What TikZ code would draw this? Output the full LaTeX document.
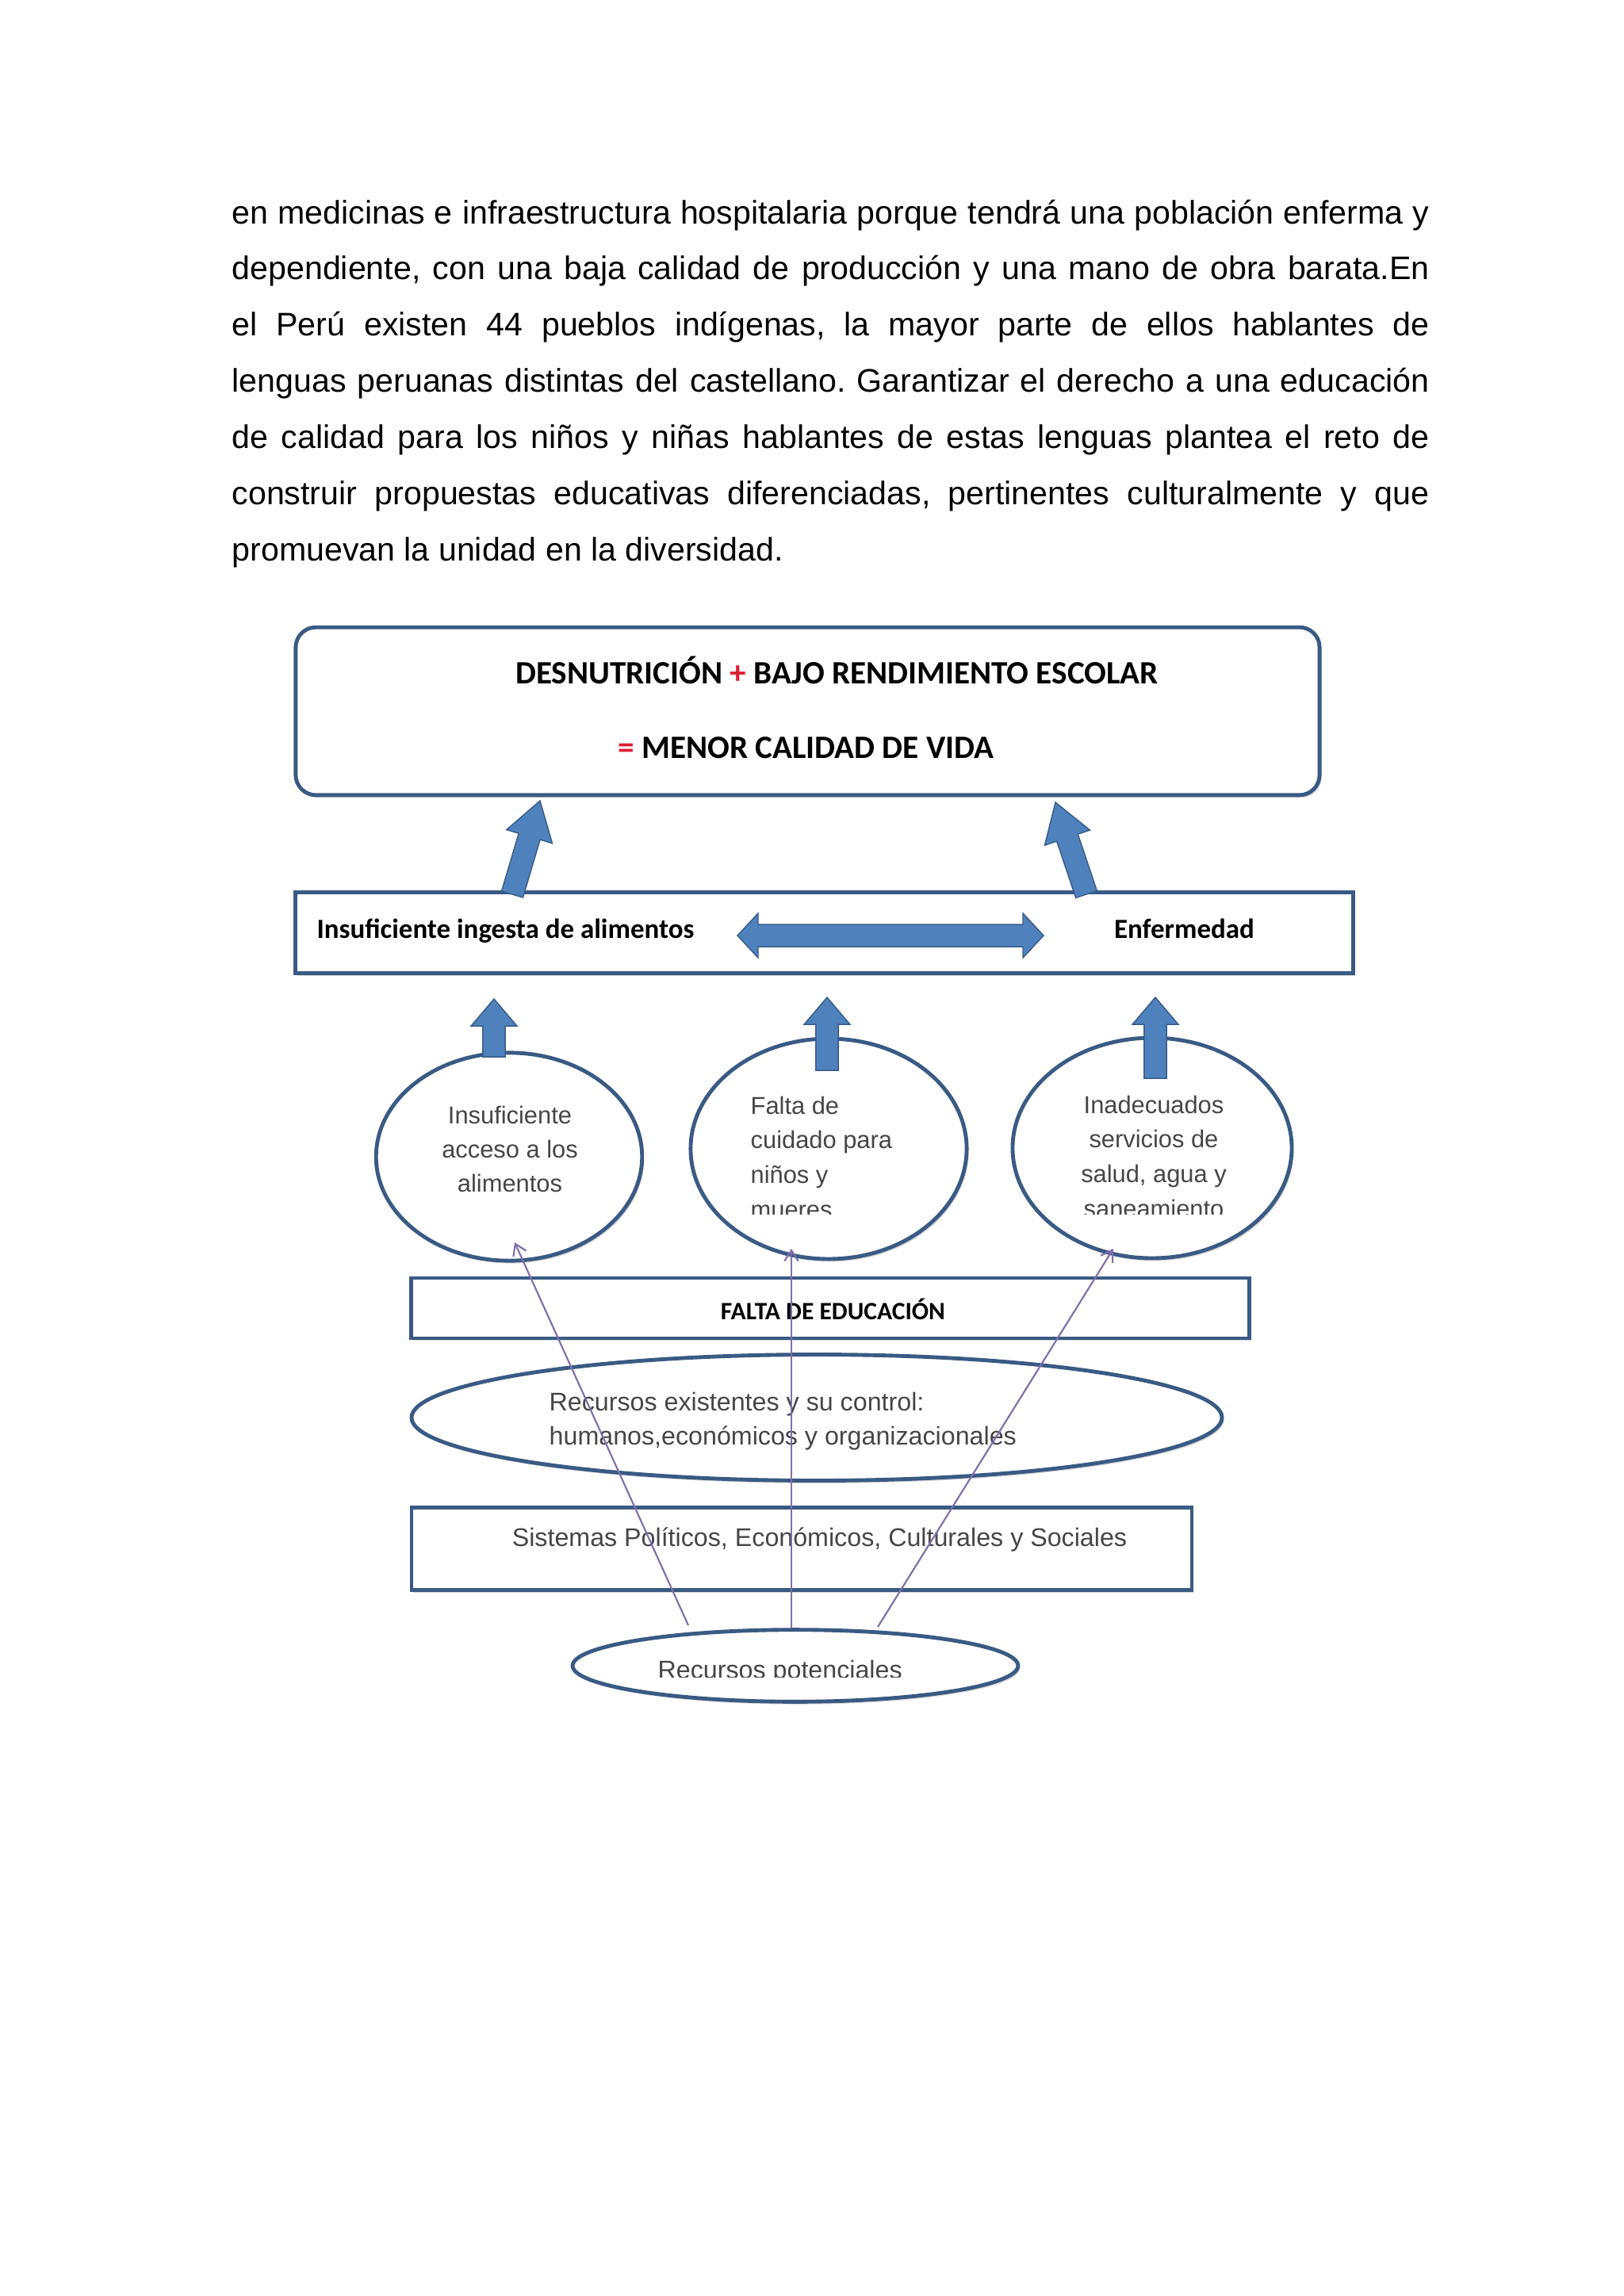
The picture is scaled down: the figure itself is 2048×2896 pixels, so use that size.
\documentclass[tikz,border=0pt]{standalone}
\usepackage{fontspec}
\setmainfont{Liberation Sans}
\newfontfamily\calib{Carlito}
\usetikzlibrary{calc,arrows.meta,shadows,shapes.geometric}
\definecolor{bordc}{RGB}{58,90,132}
\definecolor{arrfill}{RGB}{79,129,189}
\definecolor{arrline}{RGB}{56,93,138}
\definecolor{linkc}{RGB}{128,110,172}
\definecolor{graytxt}{RGB}{70,70,70}
\definecolor{plusred}{RGB}{222,30,52}
\newcommand\blockarrow[5]{%
  \coordinate (#1-h) at ($(#2)!#5!(#1)$);
  \filldraw[blockarr] ($(#1)!#3!90:(#2)$) -- ($(#1-h)!#3!-90:(#1)$) -- ($(#1-h)!#4!-90:(#1)$) -- (#2) -- ($(#1-h)!#4!90:(#1)$) -- ($(#1-h)!#3!90:(#1)$) -- ($(#1)!#3!-90:(#2)$) -- cycle;
}
\begin{document}
\begin{tikzpicture}[x=0.1025390625mm,y=-0.1025390625mm,
  boxst/.style={draw=bordc, line width=0.5mm, fill=white, inner sep=0,
    drop shadow={shadow xshift=0.25mm, shadow yshift=-0.35mm, opacity=0.3}},
  ellst/.style={boxst, ellipse},
  blockarr/.style={fill=arrfill, draw=arrline, line width=0.15mm, line join=miter},
  ttl/.style={font=\calib\bfseries\fontsize{12pt}{14pt}\selectfont, inner sep=0, anchor=base},
  lbl/.style={font=\calib\bfseries\fontsize{10.2pt}{12pt}\selectfont, inner sep=0, anchor=base},
  ctxt/.style={font=\fontsize{9pt}{12.6pt}\selectfont, text=graytxt, inner sep=0, anchor=base},
  ctxtb/.style={font=\fontsize{9pt}{12.8pt}\selectfont, text=graytxt, inner sep=0, anchor=base},
  stxt/.style={font=\fontsize{9.4pt}{12.8pt}\selectfont, text=graytxt, inner sep=0, anchor=base},
  link/.style={draw=linkc, line width=0.22mm, -{Straight Barb[length=1.4mm,width=1.8mm]}}]
\fill[white] (0,0) rectangle (2048,2896);
\path[use as bounding box] (0,0) rectangle (2048,2896);

% paragraph
\node[anchor=base west, inner sep=0] (para) at (292,282) {\parbox[t]{154.84mm}{\fontsize{12pt}{20.7pt}\selectfont\frenchspacing\tolerance=10000\hyphenpenalty=10000\exhyphenpenalty=10000
en medicinas e infraestructura hospitalaria porque tendrá una población enferma y\linebreak
dependiente, con una baja calidad de producción y una mano de obra barata.En\linebreak
el Perú existen 44 pueblos indígenas, la mayor parte de ellos hablantes de\linebreak
lenguas peruanas distintas del castellano. Garantizar el derecho a una educación\linebreak
de calidad para los niños y niñas hablantes de estas lenguas plantea el reto de\linebreak
construir propuestas educativas diferenciadas, pertinentes culturalmente y que\linebreak
promuevan la unidad en la diversidad.}};

% shapes
\node[boxst, rounded corners=2.6mm, minimum width=132.4mm, minimum height=21.7mm] (top) at (1018.5,897) {};
\node[boxst, minimum width=136.7mm, minimum height=10.4mm] (mid) at (1039.5,1176.5) {};
\node[ellst, minimum width=34.4mm, minimum height=26.9mm] (cL) at (642,1459) {};
\node[ellst, minimum width=35.7mm, minimum height=28.5mm] (cM) at (1045,1449) {};
\node[ellst, minimum width=36.1mm, minimum height=28.5mm] (cR) at (1453,1448) {};
\node[boxst, minimum width=108.3mm, minimum height=7.8mm] (edu) at (1047,1650) {};
\node[ellst, minimum width=104.8mm, minimum height=16.3mm] (rec) at (1030,1788) {};
\node[boxst, minimum width=100.9mm, minimum height=10.6mm] (sis) at (1011,1953.5) {};
\node[ellst, minimum width=57.6mm, minimum height=9.3mm] (pot) at (1003,2101) {};

% block arrows
\coordinate (la0) at (646,1128); \coordinate (la1) at (681,1010);
\coordinate (ra0) at (1370,1128); \coordinate (ra1) at (1331,1012);
\blockarrow{la0}{la1}{1.44mm}{3.08mm}{4.82mm}
\blockarrow{ra0}{ra1}{1.44mm}{3.08mm}{4.82mm}
\coordinate (ua0) at (623,1333); \coordinate (ua1) at (623,1260);
\coordinate (ub0) at (1043,1350); \coordinate (ub1) at (1043,1258);
\coordinate (uc0) at (1457,1360); \coordinate (uc1) at (1457,1258);
\blockarrow{ua0}{ua1}{1.44mm}{2.97mm}{3.5mm}
\blockarrow{ub0}{ub1}{1.44mm}{2.97mm}{3.5mm}
\blockarrow{uc0}{uc1}{1.44mm}{2.97mm}{3.5mm}
\coordinate (da1) at (930,1180); \coordinate (da2) at (1316,1180);
\filldraw[blockarr] (da1) -- ($(da1)+(26,-28)$) -- ($(da1)+(26,-14)$) -- ($(da2)+(-26,-14)$) -- ($(da2)+(-26,-28)$) -- (da2) -- ($(da2)+(-26,28)$) -- ($(da2)+(-26,14)$) -- ($(da1)+(26,14)$) -- ($(da1)+(26,28)$) -- cycle;

% texts
\node[ttl] (t1) at (1055.5,862.7) {DESNUTRICIÓN {\color{plusred}+} BAJO RENDIMIENTO ESCOLAR};
\node[ttl] (t2) at (1016.5,956.7) {{\color{plusred}=} MENOR CALIDAD DE VIDA};
\node[lbl] (m1) at (637.5,1183) {Insuficiente ingesta de alimentos};
\node[lbl] (m2) at (1493.5,1183) {Enfermedad};
\node[ctxt] (cLt) at (643,1417) {\begin{tabular}[t]{@{}c@{}}Insuficiente\\acceso a los\\alimentos\end{tabular}};
\begin{scope}
\clip (860,1300) rectangle (1240,1531);
\node[ctxtb, anchor=base west] (cMt) at (946,1405) {\begin{tabular}[t]{@{}l@{}}Falta de\\cuidado para\\niños y\\mueres\end{tabular}};
\end{scope}
\begin{scope}
\clip (1270,1300) rectangle (1640,1531);
\node[ctxtb] (cRt) at (1455,1404) {\begin{tabular}[t]{@{}c@{}}Inadecuados\\servicios de\\salud, agua y\\saneamiento\end{tabular}};
\end{scope}
\node[lbl, font=\calib\bfseries\fontsize{9.2pt}{11pt}\selectfont] (edut) at (1050.5,1664) {FALTA DE EDUCACIÓN};
\node[stxt, anchor=base west] (rect) at (692,1779) {\begin{tabular}[t]{@{}l@{}}Recursos existentes y su control:\\humanos,económicos y organizacionales\end{tabular}};
\node[stxt] (sist) at (1033.5,1950) {Sistemas Políticos, Económicos, Culturales y Sociales};
\begin{scope}
\clip (720,2050) rectangle (1290,2115);
\node[stxt, anchor=base west] (pott) at (829,2117) {Recursos potenciales};
\end{scope}

% links
\coordinate (s1) at (868,2050); \coordinate (e1) at (649,1567);
\coordinate (s2) at (998,2053); \coordinate (e2) at (998,1575);
\coordinate (s3) at (1107,2052); \coordinate (e3) at (1404,1575);
\draw[link] (s1) -- (e1);
\draw[link] (s2) -- (e2);
\draw[link] (s3) -- (e3);
\end{tikzpicture}
\end{document}
